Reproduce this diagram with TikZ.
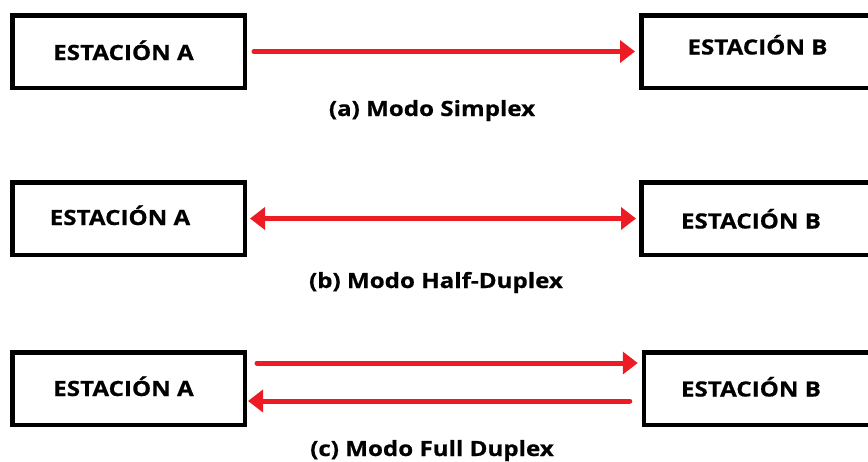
\documentclass[tikz,border=0pt]{standalone}
\usepackage{fontspec}
\setmainfont{Open Sans}[FakeStretch=1.15,BoldFeatures={FakeBold=0.6}]
\usetikzlibrary{arrows.meta}
\definecolor{arrred}{RGB}{237,28,36}
\begin{document}
\begin{tikzpicture}[x=1pt,y=-1pt,
  box/.style={draw=black,line width=4.5pt,fill=white,inner sep=0pt,minimum height=72.5pt},
  lbl/.style={font=\fontsize{21}{24}\selectfont\bfseries,anchor=base,inner sep=0pt},
  captxt/.style={font=\fontsize{21}{24}\selectfont\bfseries,anchor=base,inner sep=0pt},
  arr/.style={draw=arrred,line width=5pt,line cap=round,-{Triangle[length=15pt,width=22pt]}},
  arrb/.style={draw=arrred,line width=5pt,{Triangle[length=15pt,width=22pt]}-{Triangle[length=15pt,width=22pt]}}]
\useasboundingbox[fill=white] (0,0) rectangle (868,461);
% row a
\node[box,minimum width=232.5pt] (a1) at (128.5,51.5) {};
\node[box,minimum width=240pt] (b1) at (761.25,51.5) {};
\node[lbl] (ta1) at (123.5,60) {ESTACIÓN A};
\node[lbl] (tb1) at (757.5,54.5) {ESTACIÓN B};
\coordinate (s1) at ([xshift=7pt]a1.east);
\coordinate (e1) at ([xshift=-4pt]b1.west);
\draw[arr] (s1) -- (e1);
\node[captxt] (c1) at (432,116) {(a) Modo Simplex};
% row b
\node[box,minimum width=232.5pt] (a2) at (128.5,218.5) {};
\node[box,minimum width=240pt] (b2) at (761.25,218.5) {};
\node[lbl] (ta2) at (120,225) {ESTACIÓN A};
\node[lbl] (tb2) at (751,228.5) {ESTACIÓN B};
\coordinate (s2) at ([xshift=3pt]a2.east);
\coordinate (e2) at ([xshift=-3pt]b2.west);
\draw[arrb] (s2) -- (e2);
\node[captxt] (c2) at (436,288) {(b) Modo Half-Duplex};
% row c
\node[box,minimum width=232.5pt] (a3) at (128.5,388.5) {};
\node[box,minimum width=240pt] (b3) at (764,388.5) {};
\node[lbl] (ta3) at (123.5,396) {ESTACIÓN A};
\node[lbl] (tb3) at (751,396.5) {ESTACIÓN B};
\coordinate (s3) at ([xshift=10pt,yshift=25.5pt]a3.east);
\coordinate (e3) at ([xshift=-4pt,yshift=25.5pt]b3.west);
\draw[arr] (s3) -- (e3);
\coordinate (s4) at ([xshift=-12pt,yshift=-12.5pt]b3.west);
\coordinate (e4) at ([xshift=1pt,yshift=-12.5pt]a3.east);
\draw[arr] (s4) -- (e4);
\node[captxt] (c3) at (432,456) {(c) Modo Full Duplex};
\end{tikzpicture}
\end{document}
